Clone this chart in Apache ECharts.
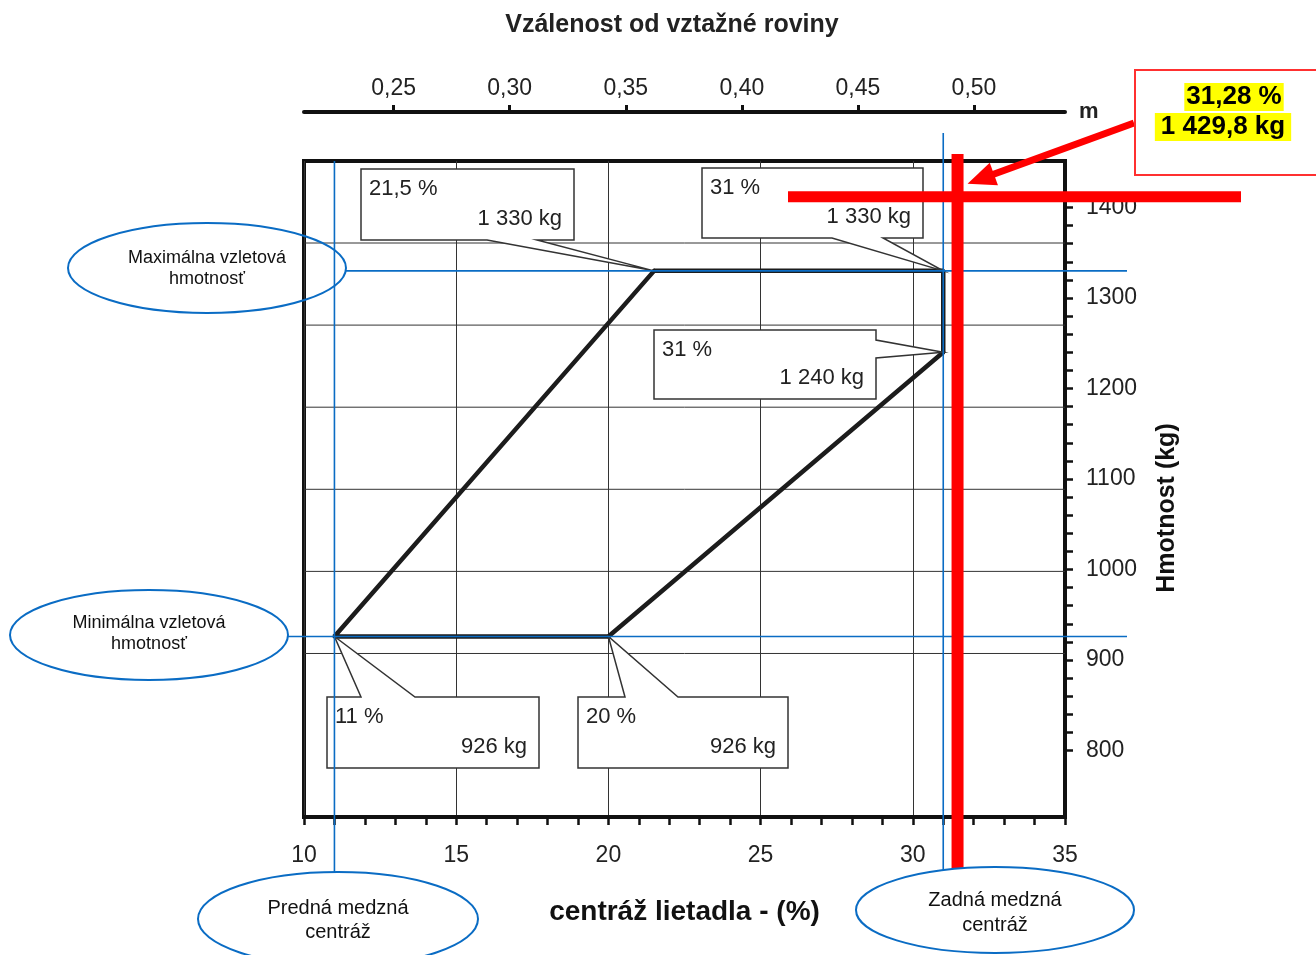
<!DOCTYPE html>
<html>
<head>
<meta charset="utf-8">
<title>Centráž lietadla</title>
<script src="https://cdn.jsdelivr.net/npm/echarts@6.0.0/dist/echarts.min.js"></script>
<style>
  html, body { margin: 0; padding: 0; background: #fff; }
  #chart { width: 1316px; height: 955px; }
</style>
</head>
<body>
<div id="chart"></div>
<script>
// obalka centraze: centraz (%) a hmotnost (kg)
const envPct = [11, 21.5, 31, 31, 20, 11];
const envKg = [926, 1330, 1330, 1240, 926, 926];

// popisky bodov obalky
const calloutPct = [21.5, 31, 31, 11, 20];
const calloutKg = [1330, 1330, 1240, 926, 926];
const calloutPctText = ['21,5 %', '31 %', '31 %', '11 %', '20 %'];
const calloutKgText = ['1 330 kg', '1 330 kg', '1 240 kg', '926 kg', '926 kg'];

// medzne centraze a hmotnosti (modre ciary)
const limitPct = [11, 31];
const limitKg = [1330, 926];

// vypocitany bod (cervena)
const markPct = 31.47;
const markKg = 1412;
const markText = ['31,28 %', '1 429,8 kg'];

// osi
const kgLabels = [800, 900, 1000, 1100, 1200, 1300, 1400];
const kgTicks = [800, 820, 840, 860, 880, 900, 920, 940, 960, 980, 1000, 1020, 1040, 1060, 1080,
  1100, 1120, 1140, 1160, 1180, 1200, 1220, 1240, 1260, 1280, 1300, 1320, 1340, 1360, 1380, 1400];
const meterLabels = [0.25, 0.30, 0.35, 0.40, 0.45, 0.50];
// vodorovna mriezka povodneho grafu (libry)
const lbGrid = [2000, 2200, 2400, 2600, 2800, 3000];
const LB = 0.45359237;

const FONT = '"Liberation Sans", Arial, sans-serif';
const BLUE = '#0a6cc4';
const RED = '#ff0000';

// elipsy s popismi (layout)
const ellMax = { cx: 207, cy: 268, rx: 139, ry: 45 };
const ellMin = { cx: 149, cy: 635, rx: 139, ry: 45 };
const ellFront = { cx: 338, cy: 919, rx: 140, ry: 47 };
const ellRear = { cx: 995, cy: 910, rx: 139, ry: 43 };

// rameceky popisov: [x, y, w, h], strana jazycka a jeho zaklad
const boxes = [
  { r: [361, 169, 213, 71], side: 'bottom', b: [487, 537] },
  { r: [702, 168, 221, 70], side: 'bottom', b: [832, 883] },
  { r: [654, 330, 222, 69], side: 'right', b: [340, 358] },
  { r: [327, 697, 212, 71], side: 'top', b: [361, 415] },
  { r: [578, 697, 210, 71], side: 'top', b: [625, 678] }
];

function ellRight(e, y) {
  const t = (y - e.cy) / e.ry;
  return e.cx + e.rx * Math.sqrt(Math.max(0, 1 - t * t));
}
function ellTop(e, x) {
  const t = (x - e.cx) / e.rx;
  return e.cy - e.ry * Math.sqrt(Math.max(0, 1 - t * t));
}
function txt(text, x, y, size, opts) {
  opts = opts || {};
  const align = opts.align || 'left';
  return {
    type: 'text',
    z: opts.z || 10,
    rotation: opts.rotation || 0,
    x: opts.rotation ? x : 0,
    y: opts.rotation ? y : 0,
    style: {
      text: text,
      x: opts.rotation ? 0 : x,
      y: opts.rotation ? 0 : y,
      font: (opts.bold ? 'bold ' : '') + size + 'px ' + FONT,
      fill: opts.color || '#222',
      align: align, textAlign: align,
      verticalAlign: 'middle', textVerticalAlign: 'middle',
      lineHeight: opts.lineHeight,
      backgroundColor: opts.bg,
      padding: opts.padding
    }
  };
}

const chart = echarts.init(document.getElementById('chart'));

const option = {
  backgroundColor: '#fff',
  animation: false,
  grid: {
    left: 304, right: 251, top: 161, bottom: 138,
    show: true, borderColor: '#111', borderWidth: 4
  },
  xAxis: [
    {
      type: 'value', position: 'bottom', min: 10, max: 35, interval: 5,
      axisLine: { lineStyle: { color: '#111', width: 4 } },
      axisTick: { length: 8, lineStyle: { color: '#111', width: 2.5 } },
      minorTick: { show: true, splitNumber: 5, length: 8, lineStyle: { color: '#111', width: 2.5 } },
      axisLabel: { fontSize: 23, color: '#222', margin: 27, fontFamily: FONT },
      splitLine: { show: true, lineStyle: { color: '#333', width: 1 } },
      name: 'centráž lietadla - (%)', nameLocation: 'middle', nameGap: 81,
      nameTextStyle: { fontSize: 28, fontWeight: 'bold', color: '#111', fontFamily: FONT }
    },
    {
      type: 'value', position: 'top', offset: 49, min: 0.2114, max: 0.5392,
      axisLine: { show: true, lineStyle: { color: '#111', width: 4 } },
      axisTick: { show: true, customValues: meterLabels, length: 7, lineStyle: { color: '#111', width: 3 } },
      axisLabel: {
        customValues: meterLabels, fontSize: 23, color: '#222', margin: 12, fontFamily: FONT,
        formatter: v => v.toFixed(2).replace('.', ',')
      },
      splitLine: { show: false },
      name: 'm', nameLocation: 'end', nameGap: 14,
      nameTextStyle: { fontSize: 22, fontWeight: 'bold', color: '#222', fontFamily: FONT }
    }
  ],
  yAxis: {
    type: 'value', position: 'right', min: 726.5, max: 1451.4,
    axisLine: { show: true, lineStyle: { color: '#111', width: 4 } },
    axisTick: { show: true, customValues: kgTicks, length: 8, lineStyle: { color: '#111', width: 2.5 } },
    axisLabel: {
      customValues: kgLabels, fontSize: 23, color: '#222', margin: 21, fontFamily: FONT,
      formatter: v => String(Math.round(v))
    },
    splitLine: { show: false }
  },
  graphic: [
    txt('Vzálenost od vztažné roviny', 672, 25, 25, { bold: true, align: 'center', color: '#222' }),
    txt('Hmotnost (kg)', 1167, 508, 25, { bold: true, align: 'center', color: '#111', rotation: Math.PI / 2 }),
    // elipsy
    ...[[ellMax, 'Maximálna vzletová\nhmotnosť', 18, 21, 1],
        [ellMin, 'Minimálna vzletová\nhmotnosť', 18, 21, -1],
        [ellFront, 'Predná medzná\ncentráž', 20, 24, 1],
        [ellRear, 'Zadná medzná\ncentráž', 20, 25, 3]].flatMap(([e, t, fs, lh, dy]) => [
      { type: 'ellipse', z: 10, shape: { cx: e.cx, cy: e.cy, rx: e.rx, ry: e.ry },
        style: { fill: 'none', stroke: BLUE, lineWidth: 2 } },
      txt(t, e.cx, e.cy + dy, fs, { align: 'center', color: '#111', lineHeight: lh })
    ]),
    // cerveny ramcek s vysledkom
    { type: 'rect', z: 10, shape: { x: 1135, y: 70, width: 200, height: 105 },
      style: { fill: '#fff', stroke: '#ff3030', lineWidth: 2 } },
    txt(markText[0], 1234, 97, 26, { bold: true, align: 'center', color: '#000', bg: '#ffff00', padding: [1, 2] }),
    txt(markText[1], 1223, 127, 26, { bold: true, align: 'center', color: '#000', bg: '#ffff00', padding: [1, 6] })
  ],
  series: [
    {
      // mriezka v librach
      type: 'custom', z: 1, silent: true, clip: true,
      data: lbGrid.map(lb => [10, lb * LB]),
      renderItem: (params, api) => {
        const cs = params.coordSys;
        const y = api.coord([10, api.value(1)])[1];
        return { type: 'line', shape: { x1: cs.x, y1: y, x2: cs.x + cs.width, y2: y },
          style: { stroke: '#333', lineWidth: 1 } };
      }
    },
    {
      type: 'line', name: 'obalka', z: 3,
      data: envPct.map((p, i) => [p, envKg[i]]),
      lineStyle: { color: '#1c1c1c', width: 4.5 },
      itemStyle: { color: '#1c1c1c' },
      symbol: 'diamond', symbolSize: 5, showSymbol: true
    },
    {
      // popisky bodov
      type: 'custom', z: 4, silent: true, clip: false,
      data: calloutPct.map((p, i) => [p, calloutKg[i], i]),
      renderItem: (params, api) => {
        const i = api.value(2);
        const tip = api.coord([api.value(0), api.value(1)]);
        const bx = boxes[i];
        const [x, y, w, h] = bx.r;
        let pts;
        if (bx.side === 'bottom') {
          pts = [[x, y], [x + w, y], [x + w, y + h], [bx.b[1], y + h], tip, [bx.b[0], y + h], [x, y + h]];
        } else if (bx.side === 'top') {
          pts = [[x, y], [bx.b[0], y], tip, [bx.b[1], y], [x + w, y], [x + w, y + h], [x, y + h]];
        } else {
          pts = [[x, y], [x + w, y], [x + w, bx.b[0]], tip, [x + w, bx.b[1]], [x + w, y + h], [x, y + h]];
        }
        return {
          type: 'group',
          children: [
            { type: 'polygon', shape: { points: pts }, style: { fill: '#fff', stroke: '#333', lineWidth: 1.5 } },
            txt(calloutPctText[i], x + 8, y + 20, 22, { color: '#222' }),
            txt(calloutKgText[i], x + w - 12, y + h - 21, 22, { align: 'right', color: '#222' })
          ]
        };
      }
    },
    {
      // modre medzne ciary
      type: 'custom', z: 5, silent: true, clip: false,
      data: [[20, 1000]],
      renderItem: (params, api) => {
        const cs = params.coordSys;
        const xl = api.coord([limitPct[0], 1000])[0];
        const xr = api.coord([limitPct[1], 1000])[0];
        const yMax = api.coord([20, limitKg[0]])[1];
        const yMin = api.coord([20, limitKg[1]])[1];
        const st = { stroke: BLUE, lineWidth: 1.6 };
        return {
          type: 'group',
          children: [
            { type: 'line', shape: { x1: xl, y1: cs.y, x2: xl, y2: ellTop(ellFront, xl) }, style: st },
            { type: 'line', shape: { x1: xr, y1: cs.y - 28, x2: xr, y2: ellTop(ellRear, xr) }, style: st },
            { type: 'line', shape: { x1: ellRight(ellMax, yMax), y1: yMax, x2: 1127, y2: yMax }, style: st },
            { type: 'line', shape: { x1: ellRight(ellMin, yMin), y1: yMin, x2: 1127, y2: yMin }, style: st }
          ]
        };
      }
    },
    {
      // cerveny zamerovac a sipka
      type: 'custom', z: 6, silent: true, clip: false,
      data: [[markPct, markKg]],
      renderItem: (params, api) => {
        const cs = params.coordSys;
        const p = api.coord([api.value(0), api.value(1)]);
        const tip = [p[0] + 10, p[1] - 13];
        const start = [1134, 123];
        const dx = tip[0] - start[0], dy = tip[1] - start[1];
        const len = Math.sqrt(dx * dx + dy * dy);
        const ux = dx / len, uy = dy / len;
        const hl = 28, hw = 12;
        const base = [tip[0] - ux * hl, tip[1] - uy * hl];
        return {
          type: 'group',
          children: [
            { type: 'line', shape: { x1: p[0], y1: cs.y - 7, x2: p[0], y2: ellTop(ellRear, p[0]) },
              style: { stroke: RED, lineWidth: 12 } },
            { type: 'line', shape: { x1: 788, y1: p[1], x2: 1241, y2: p[1] },
              style: { stroke: RED, lineWidth: 11 } },
            { type: 'line', shape: { x1: start[0], y1: start[1], x2: base[0] + ux * 4, y2: base[1] + uy * 4 },
              style: { stroke: RED, lineWidth: 7 } },
            { type: 'polygon', shape: { points: [tip, [base[0] - uy * hw, base[1] + ux * hw], [base[0] + uy * hw, base[1] - ux * hw]] },
              style: { fill: RED } }
          ]
        };
      }
    }
  ]
};

chart.setOption(option);
</script>
</body>
</html>
